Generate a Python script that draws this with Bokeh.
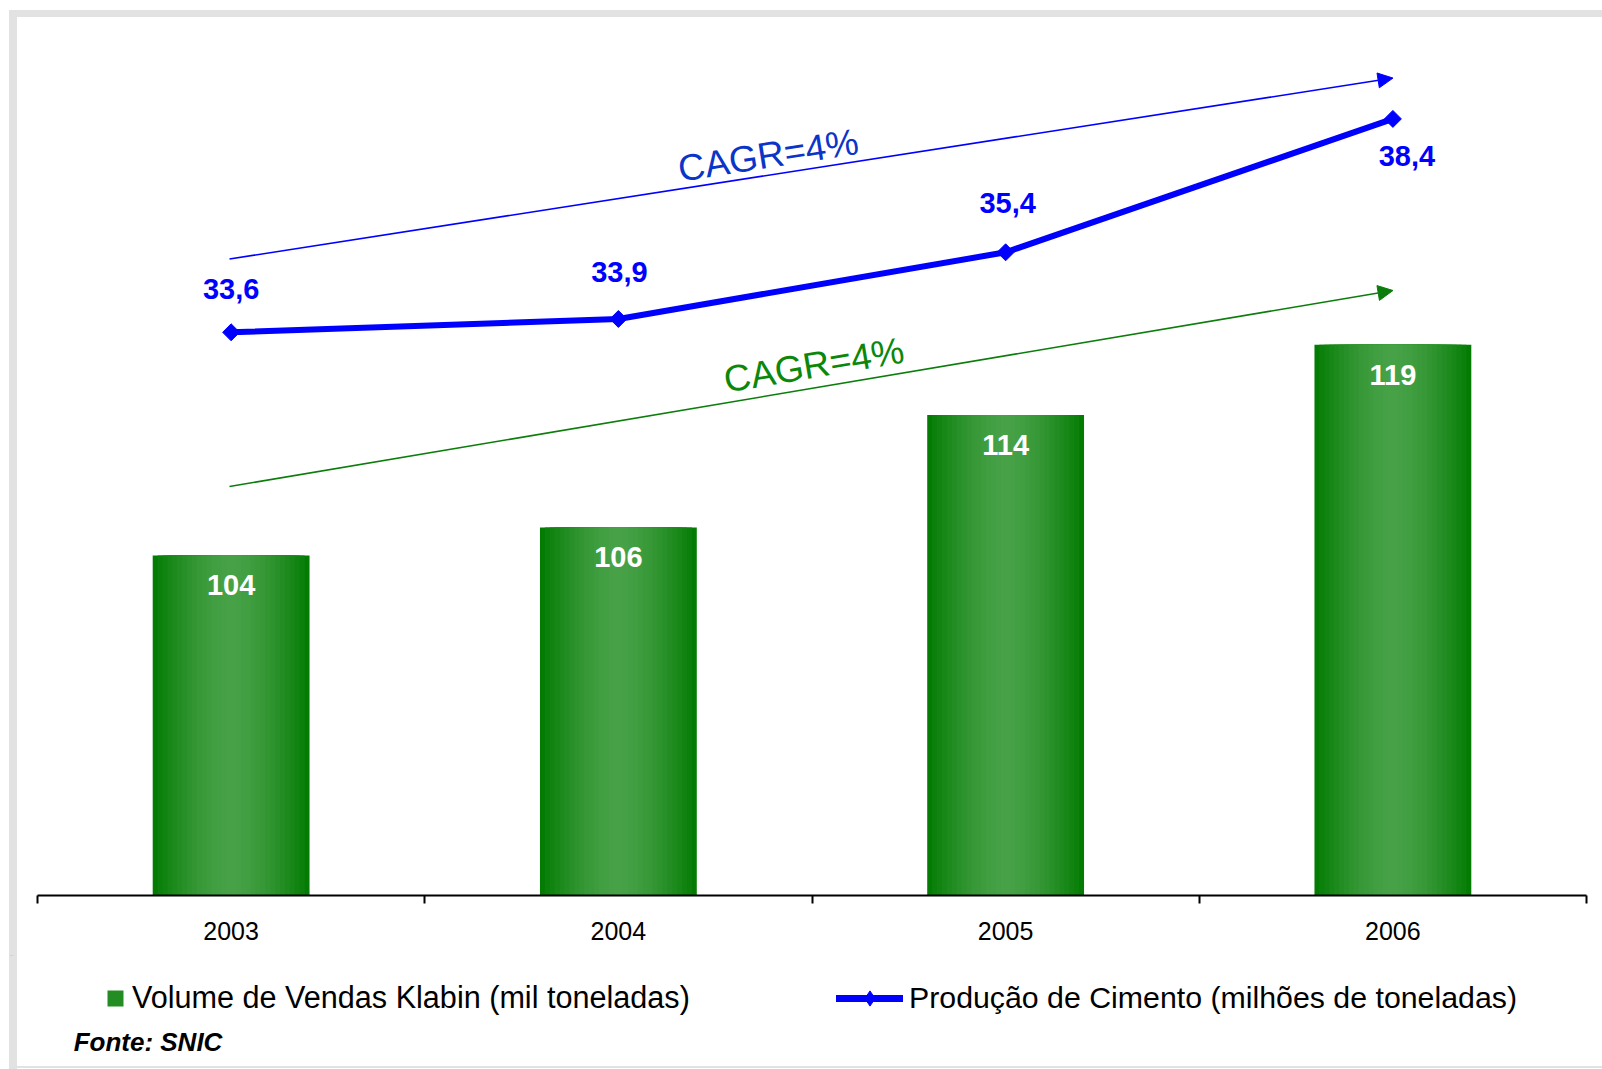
import numpy as np
from bokeh.plotting import figure
from bokeh.layouts import column
from bokeh.models import (Range1d, LinearAxis, FixedTicker,
                          ColumnDataSource, Arrow, NormalHead, Label, Legend, LegendItem,
                          CustomJSTickFormatter)
from bokeh.core.properties import value
from bokeh.embed import file_html
from bokeh.resources import INLINE

# ---------------- data ----------------
years = ["2003", "2004", "2005", "2006"]
klabin_volume = [104, 106, 114, 119]          # mil toneladas
cement_production = [33.6, 33.9, 35.4, 38.4]  # milhões de toneladas
bar_labels = [str(v) for v in klabin_volume]
cement_labels = [f"{v:.1f}".replace(".", ",") for v in cement_production]
cagr_text = "CAGR=4%"
legend_bars = "Volume de Vendas Klabin (mil toneladas)"
legend_line = "Produção de Cimento (milhões de toneladas)"
source_text = "Fonte: SNIC"

# category slot centres on a numeric axis (one unit per category)
xpos = [i + 0.5 for i in range(len(years))]

# ---------------- styles ----------------
FONT = "Liberation Sans"
BLUE = "#0000FF"
GREEN_ARROW = "#0b7d0b"
CAGR_BLUE = "#0a35c8"
CAGR_GREEN = "#0b880b"
BAND = "#e2e2e2"
label_y_off = [-43, -47, -49, 37]
label_x_off = [0, 1, 2, 14]

W = 1602
H1 = 955
H2 = 1069 - H1

# ================= main chart =================
p = figure(width=W, height=H1,
           x_range=Range1d(-0.0723, 4.0413),
           y_range=Range1d(79.795, 143.51),
           output_backend="svg", toolbar_location=None,
           x_axis_location=None, y_axis_location=None,
           min_border_left=9, min_border_right=0, min_border_top=0, min_border_bottom=60)
p.outline_line_color = None
p.grid.visible = False
p.background_fill_color = None
p.border_fill_color = None

p.extra_y_ranges = {"cem": Range1d(20.933, 41.063)}

# axis with boundary ticks (between categories)
tick_axis = LinearAxis(ticker=FixedTicker(ticks=list(range(len(years) + 1))),
                       bounds=(0, len(years)),
                       formatter=CustomJSTickFormatter(code="return ''"),
                       axis_line_color="black", axis_line_width=2,
                       major_tick_line_color="black", major_tick_line_width=2,
                       major_tick_out=8, major_tick_in=0, minor_tick_line_color=None,
                       major_label_text_font_size="1px", major_label_standoff=0)
p.add_layout(tick_axis, "below")
# axis carrying the category labels at the slot centres
label_axis = LinearAxis(ticker=FixedTicker(ticks=xpos),
                        formatter=CustomJSTickFormatter(args=dict(years=years),
                                                        code="return years[Math.floor(tick)]"),
                        axis_line_color=None, major_tick_line_color=None,
                        minor_tick_line_color=None,
                        major_tick_out=0, major_tick_in=0,
                        major_label_text_font=FONT, major_label_text_font_size="25px",
                        major_label_text_color="black", major_label_standoff=18)
p.add_layout(label_axis, "below")

# ---------------- bars (gradient via layered strips) ----------------
src = ColumnDataSource(dict(x=xpos, vol=klabin_volume, lbl=bar_labels))
N = 16
light = np.array([72, 162, 72])
dark = np.array([4, 124, 4])
bar_cols = []
for k in range(N):
    f = 1 - k / N
    c = light + (dark - light) * f ** 1.6
    col = "#%02x%02x%02x" % tuple(int(round(v)) for v in c)
    bar_cols.append(col)
    p.vbar(x="x", top="vol", width=0.405 * f, source=src,
           fill_color=col, line_color=None)

p.text(x="x", y="vol", text="lbl", source=src, text_color="white",
       text_font=value(FONT), text_font_style="bold", text_font_size="29px",
       text_align="center", text_baseline="middle", y_offset=30)

# ---------------- line ----------------
csrc = ColumnDataSource(dict(x=xpos, val=cement_production, lbl=cement_labels,
                             yoff=label_y_off, xoff=label_x_off))
p.line(x="x", y="val", source=csrc, y_range_name="cem",
       line_color=BLUE, line_width=6)
p.scatter(x="x", y="val", source=csrc, y_range_name="cem",
          marker="square", angle=0.785398, size=12,
          fill_color=BLUE, line_color=BLUE)
p.text(x="x", y="val", text="lbl", source=csrc, y_range_name="cem",
       text_color=BLUE, text_font=value(FONT), text_font_style="bold",
       text_font_size="29px", text_align="center", text_baseline="middle",
       y_offset="yoff", x_offset="xoff")

# ---------------- CAGR arrows ----------------
p.add_layout(Arrow(x_start=0.4958, y_start=35.249, x_end=3.5003, y_end=39.318,
                   y_range_name="cem",
                   line_color=BLUE, line_width=1.6,
                   end=NormalHead(size=15, fill_color=BLUE, line_color=BLUE)))
p.add_layout(Arrow(x_start=0.4958, y_start=108.91, x_end=3.5003, y_end=122.865,
                   line_color=GREEN_ARROW, line_width=1.6,
                   end=NormalHead(size=15, fill_color=GREEN_ARROW, line_color=GREEN_ARROW)))
p.add_layout(Label(x=1.887, y=37.581, y_range_name="cem",
                   text=cagr_text, angle=0.1543, text_align="center", text_baseline="middle",
                   text_font=FONT, text_font_size="37px", text_color=CAGR_BLUE))
p.add_layout(Label(x=2.005, y=117.55,
                   text=cagr_text, angle=0.1669, text_align="center", text_baseline="middle",
                   text_font=FONT, text_font_size="37px", text_color=CAGR_GREEN))

# ================= legend / source strip =================
q = figure(width=W, height=H2,
           x_range=Range1d(0, W), y_range=Range1d(1069, H1),
           output_backend="svg", toolbar_location=None,
           x_axis_location=None, y_axis_location=None,
           min_border_left=0, min_border_right=0, min_border_top=0, min_border_bottom=0)
q.outline_line_color = None
q.grid.visible = False
q.background_fill_color = None
q.border_fill_color = None

# legend proxies: same data and styling, they fall outside this strip's ranges
leg_bar = q.vbar(x="x", top="vol", width=0.4, source=src,
                 fill_color=bar_cols[N // 3], line_color=None)
leg_line = q.line(x="x", y="val", source=csrc, line_color=BLUE, line_width=7, line_cap="round")
leg_mark = q.scatter(x="x", y="val", source=csrc, marker="diamond", size=15,
                     fill_color=BLUE, line_color=BLUE)

leg1 = Legend(items=[LegendItem(label=legend_bars, renderers=[leg_bar])],
              location=(96, 54), orientation="horizontal",
              glyph_width=20, glyph_height=20, label_standoff=7,
              label_text_font=FONT, label_text_font_size="30.6px", label_text_color="black",
              padding=0, margin=0, spacing=0,
              border_line_color=None, background_fill_alpha=0)
q.add_layout(leg1)
leg2 = Legend(items=[LegendItem(label=legend_line, renderers=[leg_line, leg_mark])],
              location=(827, 52.5), orientation="horizontal",
              glyph_width=67, glyph_height=38, label_standoff=6,
              label_text_font=FONT, label_text_font_size="30.3px", label_text_color="black",
              padding=0, margin=0, spacing=0,
              border_line_color=None, background_fill_alpha=0)
q.add_layout(leg2)

q.add_layout(Label(x=64.5, y=1041, text=source_text,
                   text_font=FONT, text_font_size="26px", text_font_style="bold italic",
                   text_baseline="middle", text_align="left", text_color="black"))

layout = column(p, q, spacing=0, styles={
    "background-color": "white",
    "background-image": ("linear-gradient(%s,%s), linear-gradient(%s,%s), "
                         "linear-gradient(%s,%s)") % ((BAND,) * 6),
    "background-size": "1593px 7px, 8px 1059px, 1593px 2px",
    "background-position": "9px 10px, 9px 10px, 9px 1066px",
    "background-repeat": "no-repeat",
})

open("out.html", "w").write(file_html(layout, INLINE))
